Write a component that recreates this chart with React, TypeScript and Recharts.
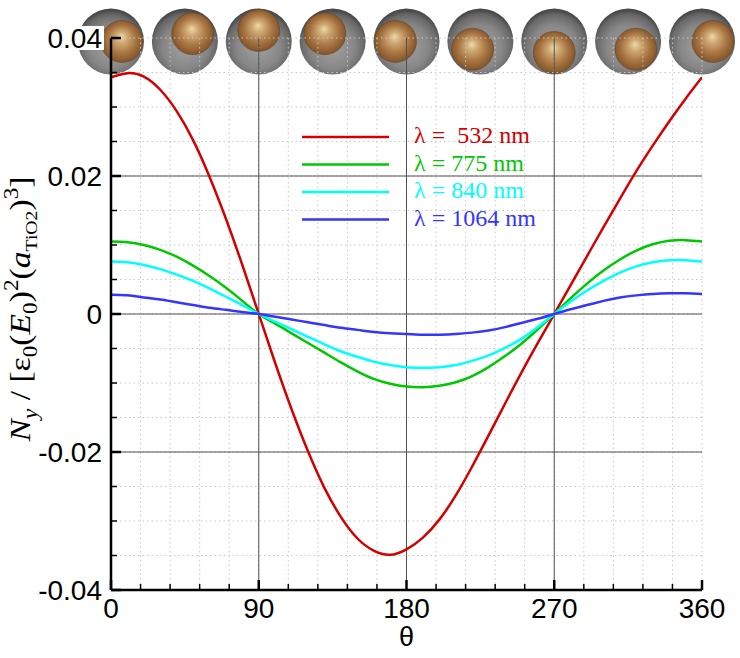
import React from "react";
import {
  LineChart,
  Line,
  XAxis,
  YAxis,
  CartesianGrid,
  Legend,
  ScatterChart,
  Scatter,
} from "recharts";

// every 10 degrees
const theta = [
  0, 10, 20, 30, 40, 50, 60, 70, 80, 90, 100, 110, 120, 130, 140, 150, 160, 170, 180,
  190, 200, 210, 220, 230, 240, 250, 260, 270, 280, 290, 300, 310, 320, 330, 340, 350, 360,
];
const n532 = [
  0.0343, 0.0349, 0.0344, 0.0325, 0.0294, 0.0252, 0.0199, 0.0138, 0.0071, 0, -0.0071,
  -0.0138, -0.0199, -0.0252, -0.0294, -0.0325, -0.0343, -0.0349, -0.0341, -0.0324, -0.0298,
  -0.0263, -0.0221, -0.0176, -0.013, -0.0085, -0.0042, 0, 0.0042, 0.0084, 0.0126, 0.0167,
  0.0207, 0.0244, 0.0279, 0.0312, 0.0343,
];
const n775 = [
  0.0105, 0.0104, 0.01, 0.0093, 0.0083, 0.007, 0.0055, 0.0038, 0.0019, 0, -0.0014, -0.0028,
  -0.0042, -0.0056, -0.007, -0.0083, -0.0094, -0.0101, -0.0105, -0.0106, -0.0104, -0.0099,
  -0.009, -0.0077, -0.0061, -0.0043, -0.0022, 0, 0.0023, 0.0044, 0.0063, 0.0079, 0.0092,
  0.0101, 0.0106, 0.0107, 0.0105,
];
const n840 = [
  0.0076, 0.0075, 0.0071, 0.0065, 0.0057, 0.0048, 0.0037, 0.0025, 0.0013, 0, -0.0011,
  -0.0022, -0.0033, -0.0044, -0.0054, -0.0062, -0.0069, -0.0074, -0.0077, -0.0078, -0.0077,
  -0.0074, -0.0068, -0.006, -0.0049, -0.0036, -0.0019, 0, 0.0018, 0.0034, 0.0048, 0.006,
  0.0069, 0.0075, 0.0078, 0.0078, 0.0076,
];
const n1064 = [
  0.0028, 0.0027, 0.0024, 0.0021, 0.0017, 0.0013, 0.0009, 0.0006, 0.0003, 0, -0.0004,
  -0.0008, -0.0012, -0.0016, -0.002, -0.0023, -0.0026, -0.0028, -0.0029, -0.003, -0.003,
  -0.0029, -0.0027, -0.0024, -0.0019, -0.0013, -0.0007, 0, 0.0007, 0.0013, 0.0019, 0.0024,
  0.0027, 0.0029, 0.003, 0.003, 0.0029,
];

const seriesNames = ["λ =  532 nm", "λ = 775 nm", "λ = 840 nm", "λ = 1064 nm"];
const seriesColors = ["#d40000", "#00c800", "#00ffff", "#3535ff"];

const xTicks = [0, 18, 36, 54, 72, 90, 108, 126, 144, 162, 180, 198, 216, 234, 252, 270, 288, 306, 324, 342, 360];
const xMajor = [0, 90, 180, 270, 360];
const yTicks = [
  -0.04, -0.035, -0.03, -0.025, -0.02, -0.015, -0.01, -0.005, 0, 0.005, 0.01, 0.015, 0.02,
  0.025, 0.03, 0.035, 0.04,
];
const yMajor = [-0.04, -0.02, 0, 0.02, 0.04];
const gridX = [90, 180, 270];
const gridY = [-0.02, 0, 0.02];

// the little sphere pictures along the top
const sphereAngles = [0, 45, 90, 135, 180, 225, 270, 315, 360];
const sphereLevel = 0.0395;

const data = theta.map((t, i) => ({
  theta: t,
  a: n532[i],
  b: n775[i],
  c: n840[i],
  d: n1064[i],
}));
const spheres = sphereAngles.map((angle) => ({ angle, y: sphereLevel }));

const W = 740;
const H = 658;
const sans = "'Liberation Sans', Arial, Helvetica, sans-serif";
const serif = "'Liberation Serif', 'Times New Roman', serif";

const isMajor = (side: string, v: number) =>
  side === "bottom" || side === "top"
    ? xMajor.includes(v)
    : yMajor.some((m) => Math.abs(m - v) < 1e-9);

const makeTick = (side: "bottom" | "top" | "left" | "right") => (props: any) => {
  const { x, y, payload } = props;
  const v = payload.value;
  const major = isMajor(side, v);
  const len = major ? 10 : 6;
  const sw = major ? 2.5 : 1.5;
  let line = null;
  if (side === "bottom") line = <line x1={x} x2={x} y1={y} y2={y - len} />;
  if (side === "top") line = <line x1={x} x2={x} y1={y} y2={y + len} />;
  if (side === "left") line = <line x1={x} x2={x + len} y1={y} y2={y} />;
  if (side === "right") line = <line x1={x} x2={x - len} y1={y} y2={y} />;
  return (
    <g>
      <g stroke="#000" strokeWidth={sw}>{line}</g>
      {major && side === "bottom" && (
        <text x={x} y={y + 28} textAnchor="middle" fontFamily={sans} fontSize={28} fill="#000">
          {v}
        </text>
      )}
      {major && side === "left" && (
        <g>
          <rect x={x - 64} y={y - 12} width={57} height={24} fill="#fff" />
          <text x={x - 9} y={y} dy="0.35em" textAnchor="end" fontFamily={sans} fontSize={28} fill="#000">
            {String(v)}
          </text>
        </g>
      )}
    </g>
  );
};

const Sphere = (props: any) => {
  const { cx, cy, payload } = props;
  const rad = (payload.angle * Math.PI) / 180;
  const id = `s${payload.angle}`;
  const ix = cx + 11 * Math.cos(rad);
  const iy = cy - 11 * Math.sin(rad);
  return (
    <g>
      <defs>
        <radialGradient id={`o${id}`} cx="50%" cy="58%" r="55%">
          <stop offset="0%" stopColor="#a2a2a2" />
          <stop offset="60%" stopColor="#878787" />
          <stop offset="88%" stopColor="#686868" />
          <stop offset="100%" stopColor="#4a4a4a" />
        </radialGradient>
        <radialGradient id={`i${id}`} cx="50%" cy="50%" r="55%" fx="48%" fy="38%">
          <stop offset="0%" stopColor="#eadca6" />
          <stop offset="25%" stopColor="#cfa873" />
          <stop offset="60%" stopColor="#a97643" />
          <stop offset="90%" stopColor="#85572c" />
          <stop offset="100%" stopColor="#664222" />
        </radialGradient>
      </defs>
      <circle cx={cx} cy={cy} r={33} fill={`url(#o${id})`} />
      <circle cx={ix} cy={iy} r={21} fill={`url(#i${id})`} stroke="#5e4026" strokeOpacity={0.5} />
    </g>
  );
};

const LegendBox = () => (
  <svg width={300} height={115} style={{ display: "block", overflow: "visible" }}>
    {seriesNames.map((name, i) => {
      const yy = 12 + i * 27.5;
      return (
        <g key={name}>
          <line x1={4} x2={91} y1={yy} y2={yy} stroke={seriesColors[i]} strokeWidth={2.5} />
          <text x={116} y={yy + 6} fill={seriesColors[i]} fontFamily={serif} fontSize={24} style={{ whiteSpace: "pre" }}>
            {name}
          </text>
        </g>
      );
    })}
  </svg>
);

const YTitle = (props: any) => {
  const vb = props.viewBox;
  const cy = vb.y + vb.height / 2 - 5;
  const x = 30;
  return (
    <text
      x={x}
      y={cy}
      transform={`rotate(-90, ${x}, ${cy})`}
      textAnchor="middle"
      fontFamily={serif}
      fontSize={29}
      fill="#000"
      textLength={265}
      lengthAdjust="spacingAndGlyphs"
    >
      <tspan fontStyle="italic">N</tspan>
      <tspan fontStyle="italic" fontSize={20} dy={7}>y</tspan>
      <tspan dy={-7} style={{ whiteSpace: "pre" }}> / [ε</tspan>
      <tspan fontSize={20} dy={7}>0</tspan>
      <tspan dy={-7}>(</tspan>
      <tspan fontStyle="italic">E</tspan>
      <tspan fontSize={20} dy={7}>0</tspan>
      <tspan dy={-7}>)</tspan>
      <tspan fontSize={20} dy={-12}>2</tspan>
      <tspan dy={12}>(</tspan>
      <tspan fontStyle="italic">a</tspan>
      <tspan fontSize={17} dy={7}>TiO2</tspan>
      <tspan dy={-7}>)</tspan>
      <tspan fontSize={20} dy={-12}>3</tspan>
      <tspan dy={12}>]</tspan>
    </text>
  );
};

const XTitle = (props: any) => {
  const vb = props.viewBox;
  return (
    <text x={vb.x + vb.width / 2} y={vb.y + 56} textAnchor="middle" fontFamily={sans} fontSize={27} fill="#000">
      θ
    </text>
  );
};

const frame = { stroke: "#000", strokeWidth: 2.5 };

export default function App() {
  return (
    <div style={{ position: "absolute", left: 0, top: 0, width: W, height: H, background: "#fff", fontFamily: sans }}>
      <div style={{ position: "absolute", left: 0, top: 0 }}>
        <ScatterChart width={W} height={H} margin={{ top: 38, right: 38, bottom: 68, left: 111 }}>
          <XAxis type="number" dataKey="angle" domain={[0, 360]} hide />
          <YAxis type="number" dataKey="y" domain={[-0.04, 0.04]} hide />
          <Scatter data={spheres} shape={Sphere} isAnimationActive={false} />
        </ScatterChart>
      </div>
      <div style={{ position: "absolute", left: 0, top: 0 }}>
        <LineChart width={W} height={H} data={data} margin={{ top: 38, right: 38, bottom: 8, left: 11 }}>
          <CartesianGrid stroke="#c8c8c8" strokeDasharray="1.5 3" strokeWidth={1} />
          <CartesianGrid stroke="#505050" strokeWidth={1} horizontalValues={gridY} verticalValues={gridX} />
          <XAxis
            dataKey="theta"
            type="number"
            domain={[0, 360]}
            ticks={xTicks}
            interval={0}
            height={60}
            tickSize={0}
            tickMargin={0}
            tickLine={false}
            axisLine={frame}
            tick={makeTick("bottom")}
            allowDataOverflow
            label={{ content: XTitle }}
          />
          <XAxis
            xAxisId="top"
            orientation="top"
            type="number"
            domain={[0, 360]}
            ticks={xTicks}
            interval={0}
            height={0}
            tickSize={0}
            tickMargin={0}
            tickLine={false}
            axisLine={frame}
            tick={makeTick("top")}
            allowDataOverflow
          />
          <YAxis
            type="number"
            domain={[-0.04, 0.04]}
            ticks={yTicks}
            interval={0}
            width={100}
            tickSize={0}
            tickMargin={0}
            tickLine={false}
            axisLine={frame}
            tick={makeTick("left")}
            allowDataOverflow
            label={{ content: YTitle }}
          />
          <YAxis
            yAxisId="right"
            orientation="right"
            type="number"
            domain={[-0.04, 0.04]}
            ticks={yTicks}
            interval={0}
            width={0}
            tickSize={0}
            tickMargin={0}
            tickLine={false}
            axisLine={frame}
            tick={makeTick("right")}
            allowDataOverflow
          />
          <Legend
            layout="horizontal"
            verticalAlign="middle"
            align="center"
            content={LegendBox}
            wrapperStyle={{ left: 298, top: 125, width: 300 }}
          />
          <Line dataKey="a" name={seriesNames[0]} type="natural" stroke={seriesColors[0]} strokeWidth={2.5} dot={false} isAnimationActive={false} />
          <Line dataKey="b" name={seriesNames[1]} type="natural" stroke={seriesColors[1]} strokeWidth={2.5} dot={false} isAnimationActive={false} />
          <Line dataKey="c" name={seriesNames[2]} type="natural" stroke={seriesColors[2]} strokeWidth={2.5} dot={false} isAnimationActive={false} />
          <Line dataKey="d" name={seriesNames[3]} type="natural" stroke={seriesColors[3]} strokeWidth={2.5} dot={false} isAnimationActive={false} />
        </LineChart>
      </div>
    </div>
  );
}
